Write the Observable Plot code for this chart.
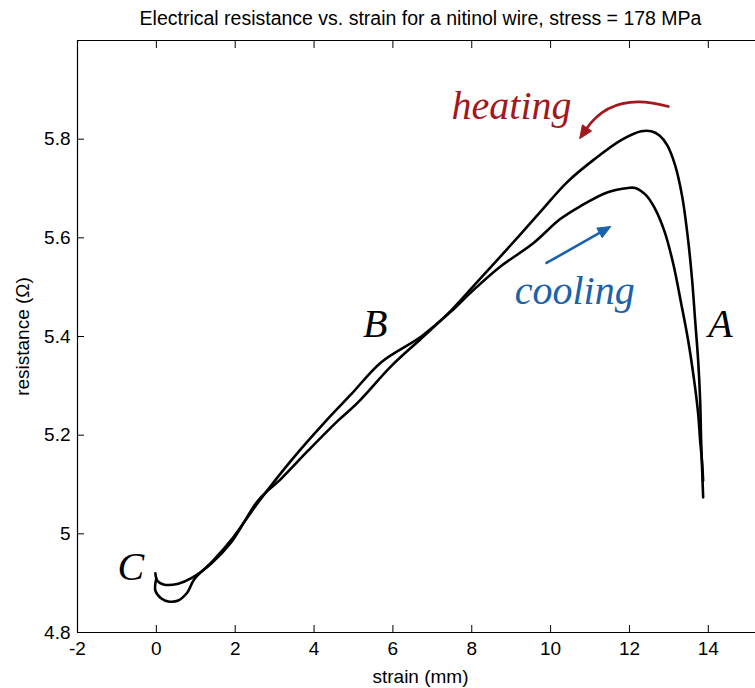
<!DOCTYPE html>
<html><head><meta charset="utf-8">
<script src="https://cdn.jsdelivr.net/npm/d3@7"></script>
<script src="https://cdn.jsdelivr.net/npm/@observablehq/plot@0.6"></script>
<style>body{margin:0;background:#fff;} #chart svg{display:block;}</style>
</head><body><div id="chart"></div>
<script>
const title = "Electrical resistance vs. strain for a nitinol wire, stress = 178 MPa";
const xLabel = "strain (mm)";
const yLabel = "resistance (Ω)";
const xTicks = [-2, 0, 2, 4, 6, 8, 10, 12, 14];
const yTicks = [4.8, 5, 5.2, 5.4, 5.6, 5.8];

const heatingStrain = [-0.025,0.025,0.203,0.558,0.887,1.395,1.902,2.586,3.169,3.854,4.615,5.096,5.958,6.719,7.480,8.088,8.874,9.711,10.421,11.106,11.790,12.297,12.551,12.754,12.957,13.159,13.337,13.489,13.590,13.666,13.742,13.793,13.818,13.844,13.869];
const heatingResistance = [4.920,4.905,4.897,4.899,4.910,4.940,4.983,5.068,5.112,5.169,5.230,5.265,5.340,5.396,5.453,5.506,5.575,5.650,5.713,5.759,5.798,5.816,5.816,5.808,5.788,5.747,5.684,5.595,5.514,5.433,5.352,5.271,5.189,5.129,5.074];

const coolingStrain = [0.000,-0.025,0.127,0.304,0.558,0.786,0.963,1.445,1.952,2.586,3.423,4.361,4.944,5.705,6.719,7.480,7.987,8.697,9.559,10.243,10.751,11.435,11.968,12.145,12.424,12.627,12.880,13.109,13.312,13.489,13.641,13.742,13.793,13.844,13.869];
const coolingResistance = [4.910,4.885,4.869,4.863,4.865,4.881,4.908,4.946,4.993,5.064,5.149,5.234,5.283,5.348,5.400,5.451,5.490,5.540,5.589,5.638,5.664,5.692,5.701,5.701,5.686,5.662,5.615,5.548,5.467,5.392,5.311,5.244,5.189,5.143,5.108];

// Point labels (A, B, C) in data units
const pointNames = ["A", "B", "C"];
const pointStrain = [14.31, 5.55, -0.65];
const pointResistance = [5.425, 5.425, 4.932];

// Phase annotations: text + arrows (data units)
const phaseNames = ["heating", "cooling"];
const phaseColors = ["#a3181c", "#1b62ab"];
const phaseTextStrain = [9.01, 10.61];
const phaseTextResistance = [5.867, 5.492];
const arrowFromStrain = [13.0, 9.91];
const arrowFromResistance = [5.865, 5.548];
const arrowToStrain = [10.75, 11.54];
const arrowToResistance = [5.80, 5.622];
const arrowBend = [36, 0];

const toRows = (xs, ys, name) => xs.map((x, i) => ({strain: x, resistance: ys[i], phase: name}));
const heating = toRows(heatingStrain, heatingResistance, "heating");
const cooling = toRows(coolingStrain, coolingResistance, "cooling");
const points = pointNames.map((n, i) => ({name: n, x: pointStrain[i], y: pointResistance[i]}));
const phases = phaseNames.map((n, i) => ({
  name: n, color: phaseColors[i], tx: phaseTextStrain[i], ty: phaseTextResistance[i],
  x1: arrowFromStrain[i], y1: arrowFromResistance[i], x2: arrowToStrain[i], y2: arrowToResistance[i], bend: arrowBend[i]
}));

// custom arrows drawn via the plot's scales (filled triangular heads)
function arrowsMark(index, scales, values, dimensions, context) {
  const g = d3.create("svg:g");
  for (const p of phases) {
    const X1 = scales.x(p.x1), Y1 = scales.y(p.y1), X2 = scales.x(p.x2), Y2 = scales.y(p.y2);
    const dx = X2 - X1, dy = Y2 - Y1, L = Math.hypot(dx, dy);
    let nx = -dy / L, ny = dx / L;
    if (ny > 0) { nx = -nx; ny = -ny; }
    const h = (L / 2) * Math.tan(p.bend * Math.PI / 180);
    const CX = (X1 + X2) / 2 + nx * h, CY = (Y1 + Y2) / 2 + ny * h;
    let ex = X2 - CX, ey = Y2 - CY; const el = Math.hypot(ex, ey); ex /= el; ey /= el;
    const headLen = 13, headW = 5.5;
    const BX = X2 - ex * headLen, BY = Y2 - ey * headLen;
    const d = p.bend ? `M${X1},${Y1}Q${CX},${CY} ${BX + ex * 2},${BY + ey * 2}` : `M${X1},${Y1}L${BX + ex * 2},${BY + ey * 2}`;
    g.append("path").attr("d", d).attr("fill", "none").attr("stroke", p.color).attr("stroke-width", 2.6).attr("stroke-linecap", "round");
    g.append("path")
      .attr("d", `M${X2},${Y2}L${BX - ey * headW},${BY + ex * headW}L${BX + ey * headW},${BY - ex * headW}Z`)
      .attr("fill", p.color).attr("stroke", p.color).attr("stroke-width", 1).attr("stroke-linejoin", "round");
  }
  return g.node();
}

const fmt = d => String(d);
const sans = "Liberation Sans, Arial, sans-serif";
const serif = "Liberation Serif, Times New Roman, serif";
const fs = 19;

const chart = Plot.plot({
  width: 755,
  height: 688,
  marginLeft: 77,
  marginRight: -8,
  marginTop: 40,
  marginBottom: 56,
  style: {fontFamily: sans, fontSize: fs + "px", color: "#000", background: "#fff", overflow: "hidden"},
  x: {domain: [-2, 15.4]},
  y: {domain: [4.8, 6.0]},
  marks: [
    Plot.ruleY([4.8], {stroke: "#000", strokeWidth: 1.2}),
    Plot.ruleY([6.0], {stroke: "#000", strokeWidth: 1.2}),
    Plot.ruleX([-2], {stroke: "#000", strokeWidth: 1.2}),
    Plot.axisX({anchor: "bottom", ticks: xTicks, tickSize: -7, text: null, label: null, stroke: "#000"}),
    Plot.axisX({anchor: "top", ticks: xTicks, tickSize: -7, text: null, label: null, stroke: "#000"}),
    Plot.axisY({anchor: "left", ticks: yTicks, tickSize: -7, text: null, label: null, stroke: "#000"}),
    Plot.axisX({anchor: "bottom", ticks: xTicks, tickSize: 0, tickPadding: 9, tickFormat: fmt, label: null, fontSize: fs}),
    Plot.axisY({anchor: "left", ticks: yTicks, tickSize: 0, tickPadding: 7, tickFormat: fmt, label: null, fontSize: fs}),
    Plot.text([xLabel], {frameAnchor: "bottom", dy: 44, lineAnchor: "middle", textAnchor: "middle", fontSize: fs, fill: "#000"}),
    Plot.text([yLabel], {frameAnchor: "left", dx: -55, rotate: -90, textAnchor: "middle", lineAnchor: "middle", fontSize: fs, fill: "#000"}),
    Plot.text([title], {frameAnchor: "top", dy: -22, lineAnchor: "middle", textAnchor: "middle", fontSize: 19.5, fill: "#000"}),
    Plot.line(heating, {x: "strain", y: "resistance", stroke: "#000", strokeWidth: 2.6, curve: "catmull-rom"}),
    Plot.line(cooling, {x: "strain", y: "resistance", stroke: "#000", strokeWidth: 2.6, curve: "catmull-rom"}),
    Plot.text(points, {x: "x", y: "y", text: "name", fontFamily: serif, fontStyle: "italic", fontSize: 40, fill: "#000"}),
    Plot.text(phases, {x: "tx", y: "ty", text: "name", fill: "color", fontFamily: serif, fontStyle: "italic", fontSize: 40}),
    arrowsMark
  ]
});
document.getElementById("chart").appendChild(chart);
</script>
</body></html>
